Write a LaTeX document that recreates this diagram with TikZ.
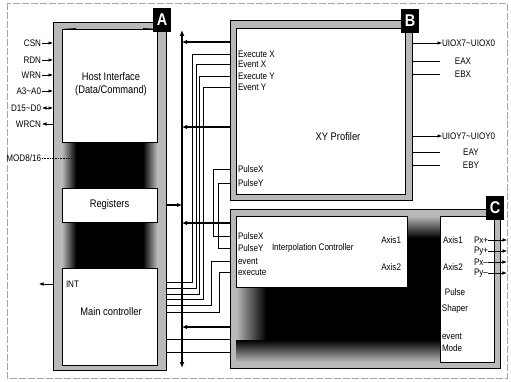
\documentclass[tikz,border=0pt]{standalone}
\usepackage{fontspec}
\setmainfont{Liberation Sans}[FakeStretch=0.85]
\usetikzlibrary{arrows.meta}
\begin{document}
\begin{tikzpicture}[x=1pt,y=-1pt,
  frame/.style={fill=gray!55, draw=black, line width=0.5pt, outer sep=0pt, inner sep=0pt},
  wbox/.style={fill=white, draw=black, line width=0.5pt, outer sep=0pt, inner sep=0pt},
  lbl/.style={font=\fontsize{9.5}{9.5}\selectfont, inner sep=0pt, outer sep=0pt},
  big/.style={font=\fontsize{11}{13}\selectfont},
  tag/.style={fill=black, text=white, font=\bfseries\fontsize{17}{17}\selectfont, minimum width=18pt, minimum height=24pt, inner sep=0pt},
  sig/.style={line width=0.6pt},
  tip/.style={-{Latex[length=4.5pt,width=3.5pt]}},
  bustip/.style={line width=1.3pt, -{Latex[length=5pt,width=4.5pt]}},
]
\useasboundingbox (0,0) rectangle (511,382);
\draw[gray!70, dash pattern=on 7pt off 2pt, line width=0.6pt] (7,3) rectangle (507,378);

% ---------------- Block A
\node[frame, minimum width=113pt, minimum height=348pt] (A) at (109.5,196) {};
\fill[black] (62,29) rectangle (157,365);
\shade[left color=gray!55, right color=black] (62,29) rectangle (76,365);
\shade[left color=black, right color=gray!55] (143,29) rectangle (157,365);
\node[wbox, minimum width=95pt, minimum height=113pt] (host) at (109.5,85.5) {};
\node[big, align=center] at (111,84) {Host Interface\\(Data/Command)};
\node[wbox, big, minimum width=95pt, minimum height=34pt] (regs) at (109.5,205) {Registers};
\node[wbox, minimum width=95pt, minimum height=97pt] (mainc) at (109.5,316.5) {};
\node[big] at (111,312) {Main controller};
\node[tag] (tA) at (162,20) {A};

% ---------------- Block B
\node[frame, minimum width=182pt, minimum height=180pt] (B) at (321,110) {};
\node[wbox, minimum width=169pt, minimum height=166pt] (Bin) at (320.5,111) {};
\node[big] at (338,137) {XY Profiler};
\node[tag] (tB) at (410,21) {B};
\node[lbl, anchor=west] (exX) at (238,54) {Execute X};
\node[lbl, anchor=west] (evX) at (238,64) {Event X};
\node[lbl, anchor=west] (exY) at (238,76) {Execute Y};
\node[lbl, anchor=west] (evY) at (238,87) {Event Y};
\node[lbl, anchor=west] (bpX) at (238,169) {PulseX};
\node[lbl, anchor=west] (bpY) at (238,183) {PulseY};

% ---------------- Block C
\node[frame, minimum width=270pt, minimum height=159pt] (C) at (365,288.5) {};
\fill[black] (236,216) rectangle (494,362);
\shade[left color=gray!55, right color=black] (236,216) rectangle (266,362);
\shade[top color=black, bottom color=gray!55] (236,340) rectangle (440,362);
\shade[top color=gray!55, bottom color=black] (407,216) rectangle (440,238);
\node[wbox, minimum width=171pt, minimum height=71pt] (interp) at (321.5,251.5) {};
\node[wbox, minimum width=54pt, minimum height=146pt] (shaper) at (467,289) {};
\node[tag] (tC) at (495,208) {C};
\node[lbl, anchor=west] (cpX) at (238,236) {PulseX};
\node[lbl, anchor=west] (cpY) at (238,248) {PulseY};
\node[lbl, anchor=west] (cev) at (238,261) {event};
\node[lbl, anchor=west] (cex) at (238,272) {execute};
\node[lbl, anchor=west] at (272,248) {Interpolation Controller};
\node[lbl, anchor=east] at (401,240) {Axis1};
\node[lbl, anchor=east] at (401,267) {Axis2};
\node[lbl, anchor=west] at (443,240) {Axis1};
\node[lbl, anchor=west] at (443,267) {Axis2};
\node[lbl, anchor=west] (px1) at (474,240) {Px+};
\node[lbl, anchor=west] (py1) at (474,251) {Py+};
\node[lbl, anchor=west] (px2) at (474,262) {Px--};
\node[lbl, anchor=west] (py2) at (474,273) {Py--};
\node[lbl] at (455,292) {Pulse};
\node[lbl] at (455,309) {Shaper};
\node[lbl, anchor=west] at (442,336) {event};
\node[lbl, anchor=west] at (442,348) {Mode};
\foreach \n in {px1,py1,px2,py2}{
  \draw[sig, tip] (\n.east) -- ++(19,0);
}

% ---------------- A left signals
\foreach \y/\t in {43/CSN, 60/RDN, 75/WRN, 91/A3\textasciitilde A0}{
  \node[lbl, anchor=east] (s\y) at (41,\y) {\t};
  \draw[sig, tip] (s\y.east) ++(1,0) -- (A.west |- s\y.east);
}
\node[lbl, anchor=east] (sD) at (41,108) {D15\textasciitilde D0};
\draw[sig, {Latex[length=4.5pt,width=3.5pt]}-{Latex[length=4.5pt,width=3.5pt]}] (sD.east) ++(1,0) -- (A.west |- sD.east);
\node[lbl, anchor=east] (sW) at (41,124) {WRCN};
\draw[sig, tip] (A.west |- sW.east) -- ++(-11,0);
\node[lbl, anchor=east] (sM) at (41,158) {MOD8/16};
\draw[sig, densely dotted] (sM.east) ++(1,0) -- (72,158);
\node[lbl, anchor=west] (sI) at (66,284) {INT};
\draw[sig, tip] (A.west |- sI.west) -- ++(-14,0);

% ---------------- B right outputs
\node[lbl, anchor=west] (uox) at (442,43) {UIOX7\textasciitilde UIOX0};
\draw[sig, tip] (B.east |- uox.west) -- (uox.west);
\node[lbl] (eax) at (463,61) {EAX};
\node[lbl] (ebx) at (463,74) {EBX};
\draw[sig] (B.east |- eax) -- (440,61);
\draw[sig] (B.east |- ebx) -- (440,74);
\node[lbl, anchor=west] (uoy) at (442,136) {UIOY7\textasciitilde UIOY0};
\draw[sig, tip] (B.east |- uoy.west) -- (uoy.west);
\node[lbl] (eay) at (471,152) {EAY};
\node[lbl] (eby) at (471,165) {EBY};
\draw[sig] (B.east |- eay) -- (440,152);
\draw[sig] (B.east |- eby) -- (440,165);

% ---------------- bus
\coordinate (busT) at (182,30);
\coordinate (busB) at (182,368);
\draw[line width=1.3pt, {Latex[length=6pt,width=5pt]}-{Latex[length=6pt,width=5pt]}] (busT) -- (busB);

% folded signal lines (B/C control to main controller)
\draw[sig] (B.west |- exX) -- (192,54) -- (192,282) -- (A.east |- 0,282);
\draw[sig] (B.west |- evX) -- (196,64) -- (196,288) -- (A.east |- 0,288);
\draw[sig] (B.west |- exY) -- (199.5,76) -- (199.5,294) -- (A.east |- 0,294);
\draw[sig] (B.west |- evY) -- (203,87) -- (203,299) -- (A.east |- 0,299);
\draw[sig] (C.west |- cev) -- (211,261) -- (211,305) -- (A.east |- 0,305);
\draw[sig] (C.west |- cex) -- (219,272) -- (219,312) -- (A.east |- 0,312);
\draw[sig] (B.west |- bpX) -- (213,169) -- (213,236) -- (C.west |- cpX);
\draw[sig] (B.west |- bpY) -- (218,183) -- (218,248) -- (C.west |- cpY);
\draw[sig] (A.east |- 0,339) -- (C.west |- 0,339);
\draw[sig] (A.east |- 0,352) -- (C.west |- 0,352);

% bus connections
\draw[bustip] (B.west |- 0,42) -- (busT |- 0,42);
\draw[bustip] (B.west |- 0,127) -- (busT |- 0,127);
\draw[bustip] (A.east |- regs.east) -- (busT |- regs.east);
\draw[bustip] (C.west |- 0,223) -- (busT |- 0,223);
\draw[bustip] (C.west |- 0,327) -- (busT |- 0,327);
\end{tikzpicture}
\end{document}
